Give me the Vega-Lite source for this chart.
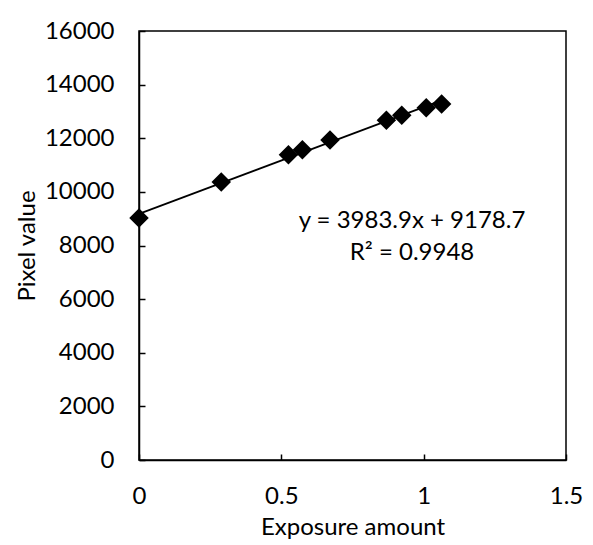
{
  "$schema": "https://vega.github.io/schema/vega-lite/v6.json",
  "width": 427,
  "height": 429,
  "autosize": "none",
  "padding": {"left": 139, "top": 31, "right": 27, "bottom": 85},
  "background": "white",
  "config": {
    "font": "Lato",
    "view": {"stroke": "black", "strokeWidth": 1.5},
    "axis": {
      "labelFont": "Lato", "titleFont": "Lato",
      "labelFontSize": 24, "titleFontSize": 24,
      "labelColor": "black", "titleColor": "black",
      "titleFontWeight": "normal",
      "domainColor": "black", "domainWidth": 1.5,
      "tickColor": "black", "tickWidth": 1.5, "tickSize": -6,
      "grid": false
    }
  },
  "datasets": {
    "points": [
      {"exposure": 0.0, "pixel": 9029},
      {"exposure": 0.289, "pixel": 10364},
      {"exposure": 0.525, "pixel": 11389},
      {"exposure": 0.574, "pixel": 11568},
      {"exposure": 0.671, "pixel": 11933},
      {"exposure": 0.869, "pixel": 12671},
      {"exposure": 0.923, "pixel": 12854},
      {"exposure": 1.009, "pixel": 13137},
      {"exposure": 1.063, "pixel": 13279}
    ],
    "trend": [
      {"exposure": 0.0, "pixel": 9178.7},
      {"exposure": 1.063, "pixel": 13413.6}
    ],
    "labels": [
      {"exposure": 0.959, "pixel": 8928, "text": "y = 3983.9x + 9178.7"},
      {"exposure": 0.959, "pixel": 7735, "text": "R² = 0.9948"}
    ]
  },
  "layer": [
    {
      "data": {"name": "trend"},
      "mark": {"type": "line", "color": "black", "strokeWidth": 1.75},
      "encoding": {
        "x": {"field": "exposure", "type": "quantitative",
              "scale": {"domain": [0, 1.5], "nice": false, "zero": false},
              "axis": {"title": "Exposure amount", "values": [0, 0.5, 1, 1.5], "format": "~g", "labelPadding": 30, "titlePadding": 7, "labelFlush": false}},
        "y": {"field": "pixel", "type": "quantitative",
              "scale": {"domain": [0, 16000], "nice": false},
              "axis": {"title": "Pixel value", "values": [0,2000,4000,6000,8000,10000,12000,14000,16000], "format": "d", "labelPadding": 31, "titlePadding": 5, "labelFlush": false}}
      }
    },
    {
      "data": {"name": "points"},
      "mark": {"type": "point", "shape": "diamond", "filled": true, "color": "black", "size": 380, "opacity": 1},
      "encoding": {
        "x": {"field": "exposure", "type": "quantitative"},
        "y": {"field": "pixel", "type": "quantitative"}
      }
    },
    {
      "data": {"name": "labels"},
      "mark": {"type": "text", "fontSize": 24, "font": "Lato", "color": "black", "align": "center", "baseline": "middle"},
      "encoding": {
        "x": {"field": "exposure", "type": "quantitative"},
        "y": {"field": "pixel", "type": "quantitative"},
        "text": {"field": "text"}
      }
    }
  ]
}
